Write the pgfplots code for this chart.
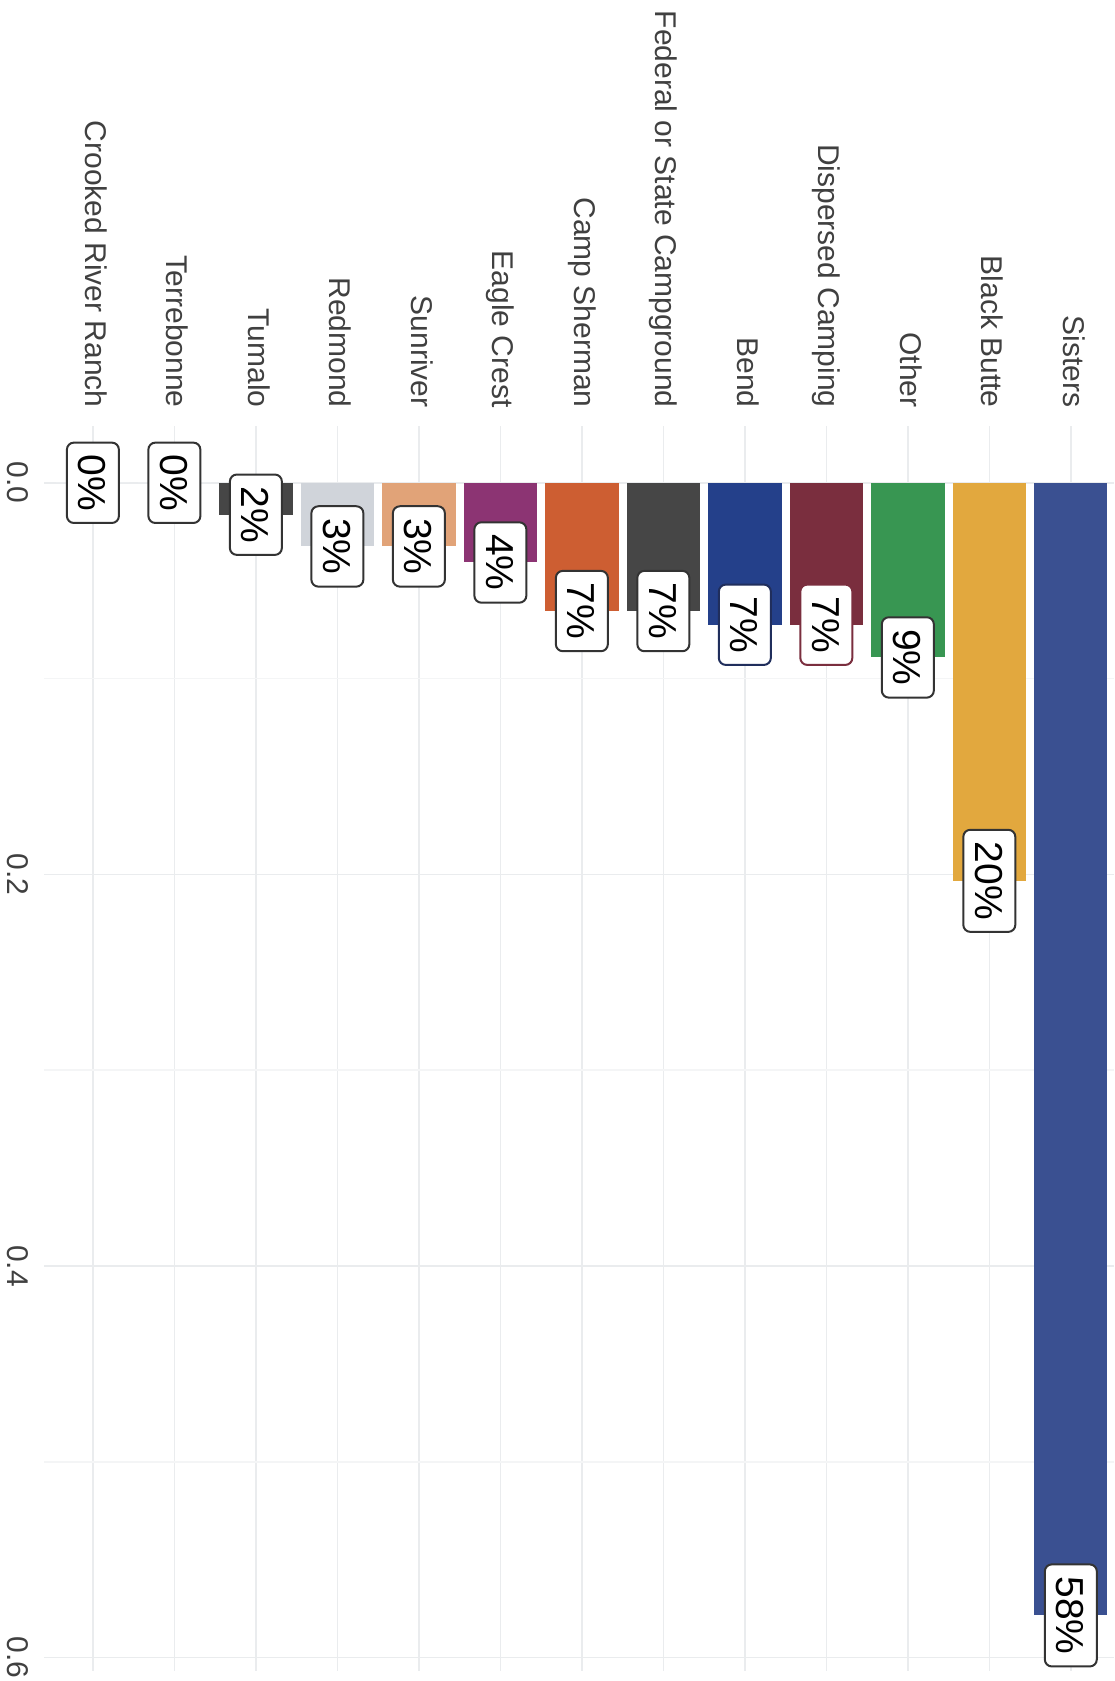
\documentclass[border=0pt]{standalone}
\usepackage{pgfplots}
\pgfplotsset{compat=1.18}
\usepackage{fontspec}
\setmainfont{Liberation Sans}

% bar fills
\definecolor{cSisters}{RGB}{58,80,145}
\definecolor{cBlackButte}{RGB}{226,168,62}
\definecolor{cOther}{RGB}{56,150,82}
\definecolor{cDispersed}{RGB}{122,46,62}
\definecolor{cBend}{RGB}{36,64,138}
\definecolor{cFederal}{RGB}{70,70,70}
\definecolor{cCamp}{RGB}{205,94,50}
\definecolor{cEagle}{RGB}{140,52,115}
\definecolor{cSunriver}{RGB}{225,163,120}
\definecolor{cRedmond}{RGB}{208,212,218}
\definecolor{cTumalo}{RGB}{70,70,70}
% text, grid and label frames
\definecolor{axisgray}{RGB}{64,64,64}
\definecolor{gridmajor}{RGB}{234,236,238}
\definecolor{gridminor}{RGB}{244,245,246}
\definecolor{labborder}{RGB}{51,51,51}
\definecolor{bendborder}{RGB}{32,46,92}

\begin{document}
\begin{tikzpicture}
\path[use as bounding box] (0pt,0pt) rectangle (557pt,-840.5pt);
\begin{axis}[
  at={(22pt,-213pt)}, anchor=north west,
  scale only axis, width=535pt, height=622.6pt,
  ybar, bar width=0.9, bar shift=0pt,
  y dir=reverse,
  xmin=0.4, xmax=13.53, ymin=-0.029, ymax=0.607,
  enlargelimits=false,
  axis line style={draw=none},
  major tick length=0pt, minor tick length=0pt,
  xtick={1,...,13},
  xticklabels={Crooked River Ranch, Terrebonne, Tumalo, Redmond, Sunriver,
    Eagle Crest, Camp Sherman, Federal or State Campground, Bend,
    Dispersed Camping, Other, Black Butte, Sisters},
  xticklabel pos=upper,
  xticklabel style={rotate=-90, anchor=east, inner sep=0pt,
    font=\fontsize{15pt}{18pt}\selectfont, text=axisgray,
    text height=10.8pt, text depth=3.2pt},
  xticklabel shift=9pt,
  ytick={0,0.2,0.4,0.6},
  minor ytick={0.1,0.3,0.5},
  yticklabel style={rotate=-90, anchor=north, inner sep=0pt,
    font=\fontsize{15pt}{18pt}\selectfont, text=axisgray,
    text height=10.8pt, text depth=0pt,
    /pgf/number format/.cd, fixed, fixed zerofill, precision=1,
    assume math mode=true},
  yticklabel shift=7.4pt,
  xmajorgrids, ymajorgrids, yminorgrids,
  major grid style={gridmajor, line width=0.8pt},
  minor grid style={gridminor, line width=0.8pt},
  point meta=explicit symbolic,
  nodes near coords,
  nodes near coords align={anchor=center},
  every node near coord/.append style={rotate=-90, anchor=center,
    draw=labborder, fill=white, text=black, line width=1pt,
    rounded corners=3.5pt, inner xsep=6pt, inner ysep=6pt,
    text height=14pt, text depth=0pt,
    font=\fontsize{19.5pt}{23pt}\selectfont},
  clip=false,
]
\addplot[fill=white, draw=none] coordinates {(1,0) [0\%]};
\addplot[fill=white, draw=none] coordinates {(2,0) [0\%]};
\addplot[fill=cTumalo, draw=none] coordinates {(3,0.0163) [2\%]};
\addplot[fill=cRedmond, draw=none] coordinates {(4,0.0325) [3\%]};
\addplot[fill=cSunriver, draw=none] coordinates {(5,0.0325) [3\%]};
\addplot[fill=cEagle, draw=none] coordinates {(6,0.0407) [4\%]};
\addplot[fill=cCamp, draw=none] coordinates {(7,0.0655) [7\%]};
\addplot[fill=cFederal, draw=none] coordinates {(8,0.0655) [7\%]};
\addplot[fill=cBend, draw=none,
  every node near coord/.append style={draw=bendborder}]
  coordinates {(9,0.0725) [7\%]};
\addplot[fill=cDispersed, draw=none,
  every node near coord/.append style={draw=cDispersed}]
  coordinates {(10,0.0725) [7\%]};
\addplot[fill=cOther, draw=none] coordinates {(11,0.0892) [9\%]};
\addplot[fill=cBlackButte, draw=none] coordinates {(12,0.2033) [20\%]};
\addplot[fill=cSisters, draw=none] coordinates {(13,0.5785) [58\%]};
\end{axis}
\end{tikzpicture}
\end{document}
